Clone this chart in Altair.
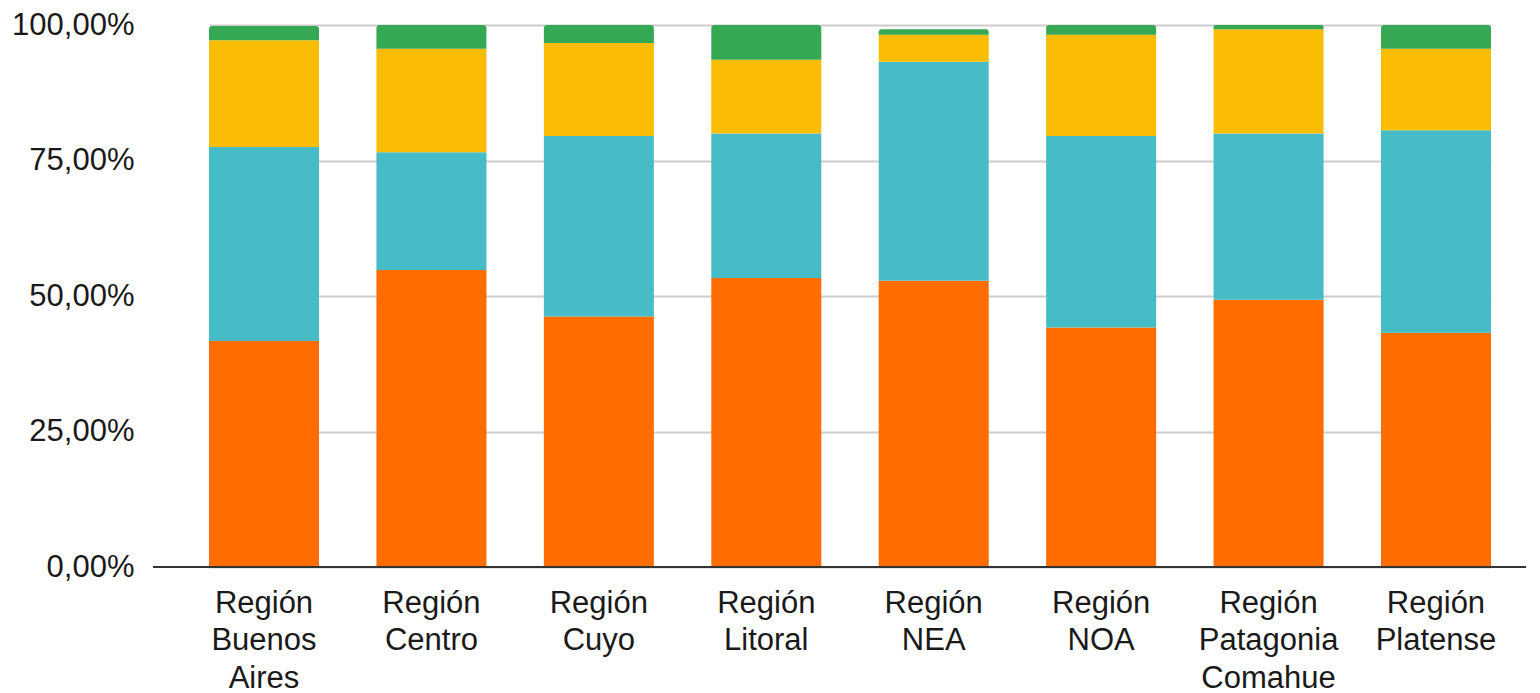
import altair as alt
import pandas as pd

regions = ["Región Buenos Aires", "Región Centro", "Región Cuyo", "Región Litoral",
           "Región NEA", "Región NOA", "Región Patagonia Comahue", "Región Platense"]
series = ["Serie 1", "Serie 2", "Serie 3", "Serie 4"]
colors = ["#FF6D01", "#46BDC6", "#FBBC04", "#34A853"]

s1 = [41.7, 54.8, 46.2, 53.3, 52.8, 44.2, 49.3, 43.2]
s2 = [35.8, 21.7, 33.3, 26.7, 40.4, 35.3, 30.7, 37.4]
s3 = [19.7, 19.1, 17.2, 13.6, 5.0, 18.7, 19.2, 15.0]
s4 = [2.6, 4.4, 3.3, 6.4, 1.0, 1.8, 0.8, 4.4]

y_ticks = [0, 25, 50, 75, 100]

rows = []
for i, vals in enumerate([s1, s2, s3, s4]):
    for r, v in zip(regions, vals):
        rows.append({"region": r, "serie": series[i], "orden": i + 1, "valor": v})
df = pd.DataFrame(rows)

FONT = "Liberation Sans"
W = 1373
H = 542

x_enc = alt.X(
    "region:N",
    sort=regions,
    title=None,
    scale=alt.Scale(range=[56, 1338], paddingInner=0.343, paddingOuter=0),
    axis=alt.Axis(
        labelAngle=0,
        labelExpr="split(datum.label, ' ')",
        labelFont=FONT,
        labelFontSize=31,
        labelColor="#1a1a1a",
        labelLineHeight=37.5,
        labelPadding=21,
        labelBaseline="top",
        ticks=False,
        domain=False,
        grid=False,
    ),
)

y_axis = alt.Axis(
    values=y_ticks,
    labelExpr="replace(format(datum.value / 100, '.2%'), '.', ',')",
    labelFont=FONT,
    labelFontSize=31,
    labelColor="#1a1a1a",
    labelPadding=19,
    ticks=False,
    domain=False,
    gridColor="#cccccc",
    gridWidth=2,
    title=None,
)

color_enc = alt.Color("serie:N", scale=alt.Scale(domain=series, range=colors), legend=None)

base = alt.Chart(df).transform_stack(
    stack="valor",
    groupby=["region"],
    as_=["y0", "y1"],
    sort=[alt.SortField("orden", order="ascending")],
)

lower = base.transform_filter("datum.orden < 4").mark_bar().encode(
    x=x_enc,
    y=alt.Y("y0:Q", scale=alt.Scale(domain=[0, 100], nice=False), axis=y_axis),
    y2="y1:Q",
    color=color_enc,
)

upper = base.transform_filter("datum.orden == 4").mark_bar(
    cornerRadiusTopLeft=3, cornerRadiusTopRight=3
).encode(
    x=x_enc,
    y=alt.Y("y0:Q"),
    y2="y1:Q",
    color=color_enc,
)

baseline = alt.Chart(pd.DataFrame({"v": [0]})).mark_rule(
    color="#333333", strokeWidth=2
).encode(
    y=alt.Y("v:Q"),
    x=alt.value(0),
    x2=alt.value(W),
)

chart = alt.layer(lower, upper, baseline).properties(
    width=W,
    height=H,
    padding={"left": 3, "top": 1, "right": 0, "bottom": 0},
).configure_view(stroke=None)

chart.save("out.html", embed_options={"renderer": "svg", "actions": False})
